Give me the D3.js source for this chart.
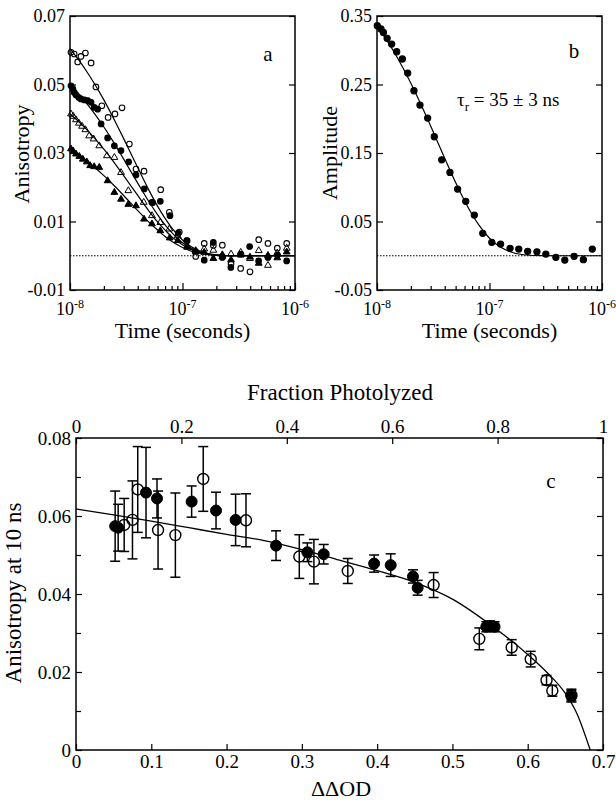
<!DOCTYPE html>
<html><head><meta charset="utf-8">
<script src="https://cdn.jsdelivr.net/npm/d3@7"></script>
<style>
body{margin:0;background:#fff}
svg{display:block}
text{font-family:"Liberation Serif","Times New Roman",serif;fill:#000}
</style>
</head><body>
<svg id="chart" width="616" height="803"></svg>
<script>
// ---------------- DATA ----------------
// Panel a: anisotropy decays (time in ns)
const aOpenCircleT = [10.2,10.9,11.7,12.5,13.7,15.4,17.0,19.2,21.8,25.1,29.0,33.7,38.6,45.5,54.3,64.0,76.3,93.7,110,131,156,188,226,270,329,398,476,575,696,844];
const aOpenCircleV = [0.0594,0.0589,0.0566,0.0582,0.0592,0.0563,0.0493,0.0438,0.0404,0.0414,0.0432,0.0326,0.0253,0.0247,0.0155,0.0193,0.0127,0.0069,0.0044,-0.0002,0.0036,0.0030,0.0031,-0.0024,-0.0037,-0.0047,0.0047,0.0036,0.0022,0.0036];
const aFilledCircleT = [10.2,10.6,10.9,11.3,12.0,12.5,13.4,14.4,15.4,16.4,17.6,18.9,21.6,24.8,28.4,33.2,38.6,45.7,53.5,63.5,77.4,91.6,109,130,156,188,226,269,330,395,475,575,698,843];
const aFilledCircleV = [0.0496,0.0487,0.0477,0.0469,0.0462,0.0458,0.0455,0.0453,0.0448,0.0433,0.0428,0.0385,0.0344,0.0321,0.0307,0.0274,0.0236,0.0195,0.0156,0.0159,0.0117,0.0066,0.0044,0.0013,-0.0013,0.0039,-0.0005,-0.0034,0.0005,0.0027,-0.0015,-0.0005,0.0002,-0.0015];
const aOpenTriT = [10.2,10.7,11.3,12.0,12.8,13.7,14.8,16.2,18.2,21.3,24.8,28.4,33.0,45.2,53.5,63.5,76.3,90.6,110,131,156,188,226,270,329,398,476,575,696,844];
const aOpenTriV = [0.0414,0.0407,0.0397,0.0387,0.0378,0.0368,0.0350,0.0341,0.0321,0.0292,0.0287,0.0243,0.0190,0.0156,0.0117,0.0097,0.0078,0.0058,0.0028,0.0012,0.0020,0.0016,-0.0002,0.0005,0.0010,-0.0008,0.0015,-0.0028,0.0008,0.0022];
const aFilledTriT = [10.2,10.7,11.3,12.1,13.0,14.1,15.1,16.4,18.2,21.6,24.8,28.4,33.0,38.6,45.5,53.5,63.5,77.0,90.6,110,131,156,188,226,270,329,398,476,575,696,844];
const aFilledTriV = [0.0312,0.0305,0.0297,0.0290,0.0282,0.0274,0.0263,0.0260,0.0258,0.0219,0.0185,0.0165,0.0150,0.0146,0.0107,0.0093,0.0073,0.0052,0.0044,0.0025,0.0015,0.0010,-0.0008,0.0003,-0.0012,0.0002,-0.0004,-0.0022,0.0001,-0.0006,0.0011];

// fitted curves, common time grid in ns
const fitT = [10,12,15,20,25,30,40,50,60,70,80,100,120,150,200,300,500,1000];
const fitAOpenCircle   = [0.0605,0.0571,0.0524,0.0455,0.0394,0.0342,0.0257,0.0193,0.0145,0.0109,0.0082,0.0046,0.0026,0.0011,0.0003,0,0,0];
const fitAFilledCircle = [0.0500,0.0472,0.0433,0.0376,0.0326,0.0282,0.0212,0.0159,0.0120,0.0090,0.0068,0.0038,0.0022,0.0009,0.0002,0,0,0];
const fitAOpenTri      = [0.0414,0.0391,0.0359,0.0311,0.0270,0.0234,0.0176,0.0132,0.0099,0.0075,0.0056,0.0032,0.0018,0.0008,0.0002,0,0,0];
const fitAFilledTri    = [0.0312,0.0295,0.0270,0.0234,0.0203,0.0176,0.0132,0.0099,0.0075,0.0056,0.0042,0.0024,0.0013,0.0006,0.0001,0,0,0];

// Panel b: amplitude (time in ns)
const bT = [10.06,10.85,11.4,12.3,13.5,14.96,16.8,18.75,21.3,24.1,28.2,32.3,37.6,44.5,52.1,61.5,73.3,87.1,104.8,125.5,152.3,182.0,218.4,264,317,389,467,565,683,820];
const bAmp = [0.3358,0.331,0.326,0.3174,0.309,0.2978,0.2872,0.2667,0.2409,0.22,0.201,0.1737,0.1401,0.1217,0.0974,0.0794,0.0594,0.0327,0.0196,0.0171,0.0108,0.0098,0.0064,0.0058,0.0025,-0.0023,-0.0063,-0.0009,-0.0058,0.0098];
const fitB = [0.3352,0.3165,0.2905,0.2519,0.2183,0.1893,0.1422,0.1069,0.0803,0.0603,0.0454,0.0256,0.0145,0.0062,0.0015,0.0001,0,0];

// Panel c: anisotropy at 10 ns vs ΔΔOD
const cFilledX = [0.052,0.056,0.093,0.1076,0.1536,0.186,0.212,0.2657,0.3073,0.329,0.396,0.418,0.4476,0.4538,0.545,0.550,0.556,0.658];
const cFilledY = [0.0574,0.0570,0.0660,0.0645,0.0637,0.0614,0.0590,0.0524,0.0507,0.0502,0.0478,0.0474,0.0445,0.0416,0.0316,0.0318,0.0316,0.0138];
const cFilledErr = [0.0090,0.0060,0.0116,0.0050,0.0040,0.0047,0.0066,0.0038,0.0024,0.0025,0.0022,0.0029,0.0017,0.0019,0.0013,0.0013,0.0013,0.0015];
const cOpenX = [0.064,0.075,0.082,0.109,0.132,0.169,0.2258,0.2966,0.316,0.361,0.475,0.5357,0.5787,0.604,0.625,0.6327,0.658];
const cOpenY = [0.0577,0.0590,0.0668,0.0564,0.0551,0.0695,0.0589,0.0496,0.0483,0.0459,0.0423,0.0285,0.0263,0.0233,0.0179,0.0152,0.0141];
const cOpenErr = [0.0068,0.0100,0.0110,0.0100,0.0108,0.0083,0.0068,0.0056,0.0057,0.0032,0.0032,0.0028,0.0020,0.0020,0.0012,0.0014,0.0015];
const fitCX = [0,0.05,0.1,0.15,0.2,0.25,0.3,0.35,0.4,0.45,0.5,0.55,0.6,0.625,0.65,0.665,0.683];
const fitCY = [0.0618,0.0603,0.0587,0.0570,0.0553,0.0537,0.0514,0.0487,0.0460,0.0430,0.0387,0.0322,0.0245,0.0200,0.0145,0.0095,0.0];

// tick labels
const aYTicks = [-0.01,0.01,0.03,0.05,0.07];
const bYTicks = [-0.05,0.05,0.15,0.25,0.35];
const logMajor = [1e-8,1e-7,1e-6];
const cYMajor = [0,0.02,0.04,0.06,0.08];
const cYMinor = [0.01,0.03,0.05,0.07];
const cXTicks = [0,0.1,0.2,0.3,0.4,0.5,0.6,0.7];
const cTopTicks = [0,0.2,0.4,0.6,0.8,1];

// ---------------- DRAW ----------------
const svg = d3.select("#chart");
const TICKFS = "18px";
const NS = 1e-9;

function frame(x0,x1,y0,y1){
  svg.append("rect").attr("x",x0).attr("y",y0).attr("width",x1-x0).attr("height",y1-y0)
    .attr("fill","none").attr("stroke","#000").attr("stroke-width",1.5);
}
function styleAxis(g, fs){
  g.select(".domain").remove();
  g.selectAll(".tick line").attr("stroke","#000").attr("stroke-width",1.2);
  g.selectAll(".tick text").style("font-size",fs||TICKFS).style("font-family",'"Liberation Serif",serif');
}
function logMinor(){
  const v=[];
  for (let e=-8;e<-6;e++) for (let m=2;m<=9;m++) v.push(m*Math.pow(10,e));
  return v;
}
function logAxis(x, y0){
  const gMaj = svg.append("g").attr("transform",`translate(0,${y0})`)
    .call(d3.axisBottom(x).tickValues(logMajor).tickSize(-7).tickFormat(""));
  styleAxis(gMaj);
  const gMin = svg.append("g").attr("transform",`translate(0,${y0})`)
    .call(d3.axisBottom(x).tickValues(logMinor()).tickSize(-4).tickFormat(""));
  styleAxis(gMin);
  logMajor.forEach(v=>{
    const t = svg.append("text").attr("x",x(v)).attr("y",y0+25).attr("text-anchor","middle").style("font-size",TICKFS);
    t.append("tspan").text("10");
    t.append("tspan").attr("dy",-7).style("font-size","12px").text(String(Math.round(Math.log10(v))));
  });
}
function yAxes(y, x0, x1, ticks, fmt){
  const gl = svg.append("g").attr("transform",`translate(${x0},0)`)
    .call(d3.axisLeft(y).tickValues(ticks).tickSize(-6).tickPadding(5).tickFormat(fmt));
  styleAxis(gl);
  const gr = svg.append("g").attr("transform",`translate(${x1},0)`)
    .call(d3.axisRight(y).tickValues(ticks).tickSize(-6).tickFormat(""));
  styleAxis(gr);
}
function fmtSigned(d){ return d===0 ? "0" : d3.format(".2f")(d).replace("−","-"); }

// ===== Panel a =====
const xA = d3.scaleLog().domain([1e-8,1e-6]).range([70,295]);
const yA = d3.scaleLinear().domain([-0.01,0.07]).range([290,16]);
svg.append("line").attr("x1",70).attr("x2",295).attr("y1",yA(0)).attr("y2",yA(0))
  .attr("stroke","#000").attr("stroke-width",1).attr("stroke-dasharray","1.5,1.5");
const lineA = d3.line().x(d=>xA(d[0]*NS)).y(d=>yA(d[1])).curve(d3.curveMonotoneX);
[fitAOpenCircle,fitAFilledCircle,fitAOpenTri,fitAFilledTri].forEach(arr=>{
  svg.append("path").datum(fitT.map((t,i)=>[t,arr[i]])).attr("d",lineA)
    .attr("fill","none").attr("stroke","#000").attr("stroke-width",1.2);
});
function circles(T,V,x,y,r,filled){
  svg.append("g").selectAll("circle").data(T.map((t,i)=>[t,V[i]])).join("circle")
    .attr("cx",d=>x(d[0]*NS)).attr("cy",d=>y(d[1])).attr("r",r)
    .attr("fill",filled?"#000":"none").attr("stroke","#000").attr("stroke-width",1.1);
}
function tris(T,V,x,y,filled){
  const sym = d3.symbol().type(d3.symbolTriangle).size(20);
  svg.append("g").selectAll("path").data(T.map((t,i)=>[t,V[i]])).join("path")
    .attr("d",sym).attr("transform",d=>`translate(${x(d[0]*NS)},${y(d[1])})`)
    .attr("fill",filled?"#000":"none").attr("stroke","#000").attr("stroke-width",1);
}
circles(aOpenCircleT,aOpenCircleV,xA,yA,2.8,false);
circles(aFilledCircleT,aFilledCircleV,xA,yA,2.8,true);
tris(aOpenTriT,aOpenTriV,xA,yA,false);
tris(aFilledTriT,aFilledTriV,xA,yA,true);
frame(70,295,16,290);
yAxes(yA,70,295,aYTicks,fmtSigned);
logAxis(xA,290);
svg.append("text").attr("x",182.5).attr("y",338).attr("text-anchor","middle").style("font-size","22px").text("Time (seconds)");
svg.append("text").attr("transform","translate(29,154) rotate(-90)").attr("text-anchor","middle").style("font-size","22px").text("Anisotropy");
svg.append("text").attr("x",268).attr("y",61).attr("text-anchor","middle").style("font-size","21px").text("a");

// ===== Panel b =====
const xB = d3.scaleLog().domain([1e-8,1e-6]).range([377,602]);
const yB = d3.scaleLinear().domain([-0.05,0.35]).range([290,16]);
svg.append("line").attr("x1",377).attr("x2",602).attr("y1",yB(0)).attr("y2",yB(0))
  .attr("stroke","#000").attr("stroke-width",1).attr("stroke-dasharray","1.5,1.5");
const lineB = d3.line().x(d=>xB(d[0]*NS)).y(d=>yB(d[1])).curve(d3.curveMonotoneX);
svg.append("path").datum(fitT.map((t,i)=>[t,fitB[i]])).attr("d",lineB)
  .attr("fill","none").attr("stroke","#000").attr("stroke-width",1.2);
circles(bT,bAmp,xB,yB,3.1,true);
frame(377,602,16,290);
yAxes(yB,377,602,bYTicks,fmtSigned);
logAxis(xB,290);
svg.append("text").attr("x",489.5).attr("y",338).attr("text-anchor","middle").style("font-size","22px").text("Time (seconds)");
svg.append("text").attr("transform","translate(337,153) rotate(-90)").attr("text-anchor","middle").style("font-size","22px").text("Amplitude");
svg.append("text").attr("x",574).attr("y",58).attr("text-anchor","middle").style("font-size","21px").text("b");
const tau = svg.append("text").attr("x",457).attr("y",106).style("font-size","19px");
tau.append("tspan").text("τ");
tau.append("tspan").attr("dy",5).style("font-size","13px").text("r");
tau.append("tspan").attr("dy",-5).text(" = 35 ± 3 ns");

// ===== Panel c =====
const xC = d3.scaleLinear().domain([0,0.7]).range([76,603]);
const xCtop = d3.scaleLinear().domain([0,1]).range([76,603]);
const yC = d3.scaleLinear().domain([0,0.08]).range([750,438]);
const lineC = d3.line().x(d=>xC(d[0])).y(d=>yC(d[1])).curve(d3.curveMonotoneX);
svg.append("path").datum(fitCX.map((x,i)=>[x,fitCY[i]])).attr("d",lineC)
  .attr("fill","none").attr("stroke","#000").attr("stroke-width",1.3);
function errBars(X,Y,E){
  const g = svg.append("g").attr("stroke","#000").attr("stroke-width",1.5);
  X.forEach((x,i)=>{
    const px = xC(x), t = yC(Y[i]+E[i]), b = yC(Y[i]-E[i]);
    g.append("line").attr("x1",px).attr("x2",px).attr("y1",t).attr("y2",b);
    g.append("line").attr("x1",px-5).attr("x2",px+5).attr("y1",t).attr("y2",t);
    g.append("line").attr("x1",px-5).attr("x2",px+5).attr("y1",b).attr("y2",b);
  });
}
errBars(cOpenX,cOpenY,cOpenErr);
errBars(cFilledX,cFilledY,cFilledErr);
svg.append("g").selectAll("circle").data(cOpenX.map((x,i)=>[x,cOpenY[i]])).join("circle")
  .attr("cx",d=>xC(d[0])).attr("cy",d=>yC(d[1])).attr("r",5.5)
  .attr("fill","none").attr("stroke","#000").attr("stroke-width",1.4);
svg.append("g").selectAll("circle").data(cFilledX.map((x,i)=>[x,cFilledY[i]])).join("circle")
  .attr("cx",d=>xC(d[0])).attr("cy",d=>yC(d[1])).attr("r",5.5)
  .attr("fill","#000").attr("stroke","#000").attr("stroke-width",1);
frame(76,603,438,750);
// y axes
const gcl = svg.append("g").attr("transform","translate(76,0)")
  .call(d3.axisLeft(yC).tickValues(cYMajor).tickSize(-6).tickPadding(5).tickFormat(d=>d===0?"0":d3.format(".2f")(d)));
styleAxis(gcl,"19px");
const gcl2 = svg.append("g").attr("transform","translate(76,0)")
  .call(d3.axisLeft(yC).tickValues(cYMinor).tickSize(-5).tickFormat(""));
styleAxis(gcl2);
const gcr = svg.append("g").attr("transform","translate(603,0)")
  .call(d3.axisRight(yC).tickValues(cYMajor.concat(cYMinor)).tickSize(-6).tickFormat(""));
styleAxis(gcr);
// bottom axis
const gcb = svg.append("g").attr("transform","translate(0,750)")
  .call(d3.axisBottom(xC).tickValues(cXTicks).tickSize(-6).tickPadding(5).tickFormat(d=>d===0?"0":d3.format(".1f")(d)));
styleAxis(gcb,"19px");
// top axis
const gct = svg.append("g").attr("transform","translate(0,438)")
  .call(d3.axisTop(xCtop).tickValues(cTopTicks).tickSize(-6).tickPadding(5).tickFormat(d=>(d===0||d===1)?String(d):d3.format(".1f")(d)));
styleAxis(gct,"19px");
svg.append("text").attr("x",340).attr("y",400).attr("text-anchor","middle").style("font-size","23px").text("Fraction Photolyzed");
svg.append("text").attr("x",341).attr("y",796).attr("text-anchor","middle").style("font-size","22px").text("ΔΔOD");
svg.append("text").attr("transform","translate(21,593) rotate(-90)").attr("text-anchor","middle").style("font-size","23px").text("Anisotropy at 10 ns");
svg.append("text").attr("x",551).attr("y",488).attr("text-anchor","middle").style("font-size","21px").text("c");
</script>
</body></html>
